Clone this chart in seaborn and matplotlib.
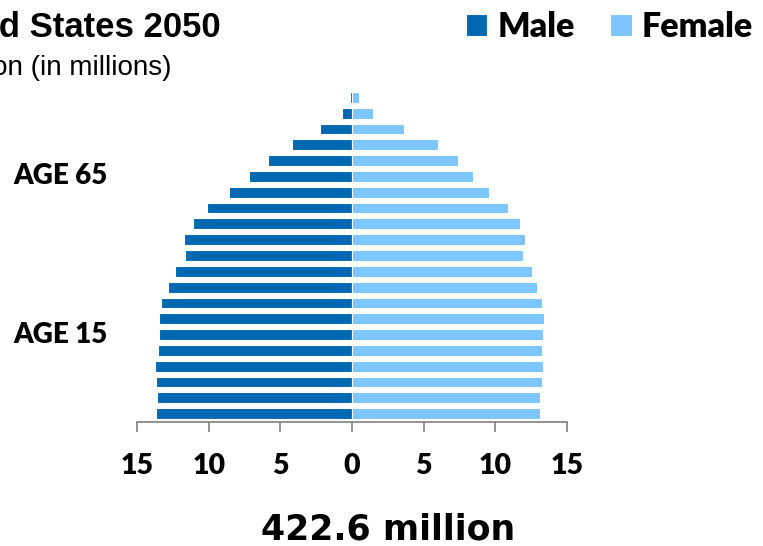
import matplotlib
matplotlib.use("Agg")
import matplotlib.pyplot as plt
import matplotlib.transforms as mtransforms
import numpy as np
import pandas as pd
import seaborn as sns

# Age groups listed from the oldest (top row) to the youngest (bottom row)
age_groups = ["100+", "95-99", "90-94", "85-89", "80-84", "75-79", "70-74",
              "65-69", "60-64", "55-59", "50-54", "45-49", "40-44", "35-39",
              "30-34", "25-29", "20-24", "15-19", "10-14", "5-9", "0-4"]

# Projected population in millions
male = [0.16, 0.72, 2.20, 4.20, 5.83, 7.18, 8.57, 10.10, 11.10, 11.73, 11.64,
        12.36, 12.82, 13.31, 13.45, 13.45, 13.56, 13.75, 13.68, 13.61, 13.66]
female = [0.47, 1.49, 3.65, 5.97, 7.39, 8.46, 9.55, 10.85, 11.69, 12.10, 11.92,
          12.54, 12.89, 13.27, 13.38, 13.31, 13.27, 13.31, 13.26, 13.13, 13.12]

sexes = ["Male", "Female"]
colors = ["#0067B1", "#7CC5FF"]
tick_values = [-15, -10, -5, 0, 5, 10, 15]
age_marks = [("AGE 65", "75-79"), ("AGE 15", "25-29")]
title = "United States 2050"
subtitle = "Population (in millions)"
total_label = "422.6 million"

df = pd.DataFrame({
    "age": age_groups * 2,
    "sex": ["Male"] * len(age_groups) + ["Female"] * len(age_groups),
    "pop": [-v for v in male] + female,
})

sns.set_style("white")
plt.rcParams["text.color"] = "black"
plt.rcParams["xtick.labelcolor"] = "black"
label_font = ["Lato", "DejaVu Sans"]
head_font = ["Liberation Sans", "DejaVu Sans"]

fig = plt.figure(figsize=(7.63, 5.46), dpi=100)
ax = fig.add_axes([137 / 763, 1 - 422 / 546, 430 / 763, 334 / 546])

sns.barplot(data=df, x="pop", y="age", hue="sex", order=age_groups,
            hue_order=sexes, palette=colors, saturation=1, dodge=False,
            orient="h", width=0.68, edgecolor="white", linewidth=0.8, ax=ax)

ax.set_xlim(-15, 15)
ax.set_ylim(20.525, -0.588)
ax.set_xticks(tick_values)
ax.set_xticklabels([str(abs(v)) for v in tick_values], family=label_font,
                   fontweight="heavy", fontsize=20.5)
ax.set_yticks([])
ax.set_xlabel("")
ax.set_ylabel("")
for side in ["top", "right", "left"]:
    ax.spines[side].set_visible(False)
ax.spines["bottom"].set_color("#7f7f7f")
ax.spines["bottom"].set_linewidth(1.2)
ax.tick_params(axis="x", direction="out", length=7.5, width=1.2,
               color="#7f7f7f", pad=15, bottom=True)

# Age reference labels on the left, aligned with their age-group rows
side_tr = mtransforms.blended_transform_factory(fig.transFigure, ax.transData)
for text, grp in age_marks:
    ax.text(13 / 763, age_groups.index(grp), text, transform=side_tr,
            ha="left", va="center", family=label_font, fontweight="heavy",
            fontsize=20)

sns.move_legend(ax, loc="upper left", bbox_to_anchor=(466 / 763, 1 - 11 / 546),
                bbox_transform=fig.transFigure, ncol=2, frameon=False,
                title=None, prop={"family": label_font, "weight": "heavy",
                                  "size": 24.5},
                handlelength=0.62, handleheight=0.62, handletextpad=0.3,
                columnspacing=1.05, borderpad=0, borderaxespad=0)

fig.text(221 / 763, 1 - 37 / 546, title, ha="right", va="baseline",
         family=head_font, fontweight="bold", fontsize=25)
fig.text(172 / 763, 1 - 75 / 546, subtitle, ha="right", va="baseline",
         family=head_font, fontsize=20)
fig.text(388 / 763, 1 - 540 / 546, total_label, ha="center", va="baseline",
         family=["DejaVu Sans"], fontweight="bold", fontsize=25)

fig.savefig("out.png", dpi=100)
